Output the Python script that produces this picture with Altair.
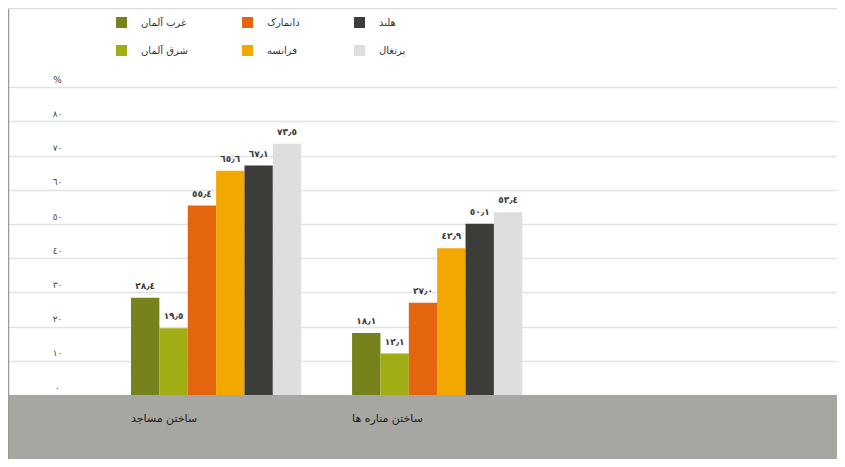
import altair as alt
import pandas as pd

# ---- data ----
groups = ["ساختن مساجد", "ساختن مناره ها"]
series = ["غرب آلمان", "شرق آلمان", "دانمارک", "فرانسه", "هلند", "پرتغال"]
series_colors = ["#78821c", "#a0ad14", "#e5650f", "#f2a800", "#3c3c38", "#dededc"]
mosques = [28.4, 19.5, 55.4, 65.6, 67.1, 73.5]
minarets = [18.1, 12.1, 27.0, 42.9, 50.1, 53.4]
y_ticks = [0, 10, 20, 30, 40, 50, 60, 70, 80, 90]
legend_order = ["غرب آلمان", "دانمارک", "هلند", "شرق آلمان", "فرانسه", "پرتغال"]

AR = "٠١٢٣٤٥٦٧٨٩"


def ar_digits(s):
    return "".join(AR[int(c)] if c.isdigit() else c for c in s)


def value_label(v):
    return ar_digits(f"{v:.1f}").replace(".", "٫")


rows = []
for g, vals in zip(groups, [mosques, minarets]):
    for s, v in zip(series, vals):
        rows.append({"group": g, "series": s, "value": v, "label": value_label(v)})
df = pd.DataFrame(rows)
gdf = pd.DataFrame({"group": groups})
one = pd.DataFrame({"k": [0]})

cmap = dict(zip(series, series_colors))
legend_colors = [cmap[s] for s in legend_order]

# ---- layout ----
W, H = 829, 451
PX = 3.42
ZERO = 387
y_dom = [-(H - ZERO) / PX, ZERO / PX]
FONT = "DejaVu Sans"

ys = alt.Scale(domain=y_dom, nice=False, zero=False)
xs = alt.Scale(paddingInner=0.23, paddingOuter=0.99, align=0.281)

label_expr = " : ".join(
    [f"datum.value == {t} ? '{ar_digits(str(t))}'" for t in y_ticks[:-1]] + ["'%'"]
)

yaxis = alt.Axis(
    values=y_ticks, grid=True, gridColor="#e2e2e2", gridWidth=1.5,
    domain=False, ticks=False, tickSize=0, title=None,
    labelExpr=label_expr, labelPadding=-49, labelAlign="center",
    labelBaseline="middle", labelOffset=-8, labelFont=FONT,
    labelFontSize=9, labelColor="#444",
)

band = alt.Chart(one).mark_rect(color="#a6a7a2").encode(
    y=alt.datum(0), y2=alt.value(H), x=alt.value(0), x2=alt.value(W)
)

bars = alt.Chart(df).mark_bar().encode(
    x=alt.X("group:N", sort=groups, scale=xs, axis=None),
    xOffset=alt.XOffset("series:N", sort=series,
                        scale=alt.Scale(paddingInner=0, paddingOuter=0)),
    y=alt.Y("value:Q", scale=ys, axis=yaxis),
    color=alt.Color(
        "series:N",
        scale=alt.Scale(domain=legend_order, range=legend_colors),
        legend=alt.Legend(
            orient="none", legendX=108, legendY=9, direction="horizontal",
            columns=3, title=None, symbolType="square", symbolSize=121,
            symbolStrokeWidth=0, symbolOpacity=1, labelFont=FONT,
            labelFontSize=10, labelColor="#333", labelOffset=14,
            columnPadding=54, rowPadding=17, padding=0,
        ),
    ),
)

vlabels = alt.Chart(df).mark_text(
    baseline="bottom", dy=-7, font=FONT, fontSize=9, fontWeight="bold", color="#3a3a3a"
).encode(
    x=alt.X("group:N", sort=groups),
    xOffset=alt.XOffset("series:N", sort=series),
    y=alt.Y("value:Q"),
    text="label:N",
)

glabels = alt.Chart(gdf).mark_text(
    align="left", baseline="middle", font=FONT, fontSize=11, color="#1a1a1a"
).encode(
    x=alt.X("group:N", sort=groups, bandPosition=0),
    y=alt.datum(-7),
    text="group:N",
)

left_rule = alt.Chart(one).mark_rule(color="#9a9a9a", strokeWidth=1.5).encode(
    x=alt.value(0.5), y=alt.value(0), y2=alt.value(H)
)
top_rule = alt.Chart(one).mark_rule(color="#dcdcdc", strokeWidth=1.5).encode(
    y=alt.value(0.5), x=alt.value(0), x2=alt.value(W)
)

chart = alt.layer(band, bars, vlabels, glabels, left_rule, top_rule).properties(
    width=W, height=H, autosize=alt.AutoSizeParams(type="none"), padding=0,
    background="white",
).configure_view(stroke=None)

chart.save("out.html", embed_options={"renderer": "svg", "actions": False})
